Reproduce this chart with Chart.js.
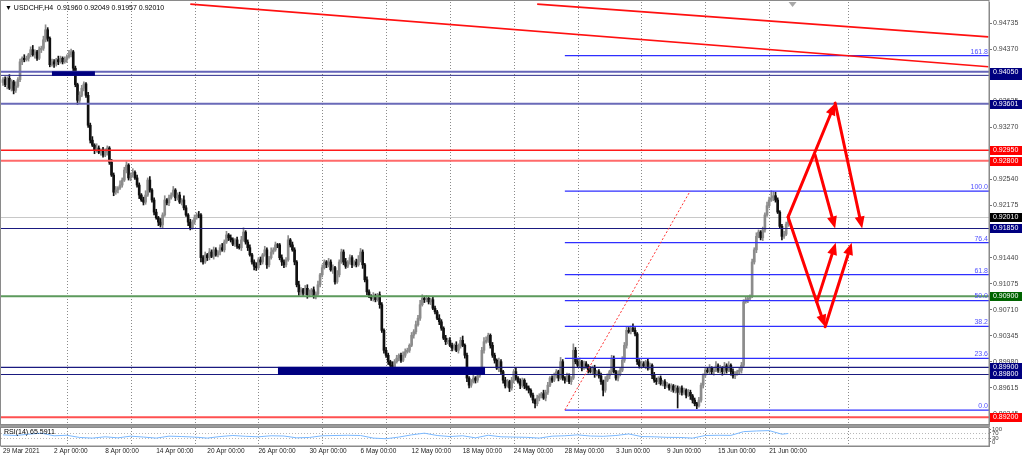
<!DOCTYPE html>
<html>
<head>
<meta charset="utf-8">
<script src="https://cdn.jsdelivr.net/npm/chart.js@4.4.1/dist/chart.umd.min.js"></script>
<style>
  html, body { margin: 0; padding: 0; background: #fff; }
  #wrap { position: relative; width: 1024px; height: 456px; overflow: hidden; }
  #main { position: absolute; left: 0; top: 0; }
  #rsi { position: absolute; left: 0; top: 425px; }
</style>
</head>
<body>
<div id="wrap">
  <canvas id="main" width="1024" height="425"></canvas>
  <canvas id="rsi" width="1024" height="31"></canvas>
</div>
<script>
// USDCHF H4, 29 Mar - 22 Jun 2021. Prices in pips (x 0.0001)
const PIP = 0.0001;
const firstOpen = 9390;
const closes = [
  9394,9387,9396,9382,9391,9379,9385,9394,9419,9424,
  9422,9424,9429,9436,9429,9433,9424,9436,9438,9450,
  9464,9452,9415,9419,9416,9422,9419,9424,9419,9422,
  9426,9429,9433,9410,9387,9365,9372,9382,9388,9372,
  9330,9309,9302,9295,9298,9292,9295,9288,9292,9298,
  9278,9260,9236,9239,9242,9246,9253,9267,9274,9256,
  9260,9264,9256,9246,9232,9225,9222,9232,9253,9239,
  9225,9208,9200,9194,9190,9204,9225,9221,9228,9232,
  9239,9228,9232,9222,9225,9214,9204,9194,9186,9194,
  9200,9204,9204,9144,9138,9148,9144,9152,9146,9155,
  9148,9152,9158,9155,9166,9176,9172,9169,9163,9169,
  9160,9158,9169,9180,9166,9158,9148,9138,9132,9130,
  9141,9138,9148,9155,9134,9144,9152,9155,9162,9162,
  9144,9138,9134,9141,9169,9162,9155,9138,9106,9096,
  9099,9094,9101,9092,9096,9099,9090,9093,9106,9120,
  9130,9138,9134,9138,9127,9130,9110,9120,9138,9152,
  9138,9132,9138,9144,9134,9138,9134,9141,9152,9134,
  9113,9096,9090,9087,9090,9085,9092,9078,9042,9014,
  9007,8998,8993,8986,8998,9003,9007,9000,9007,9012,
  9014,9021,9035,9040,9050,9059,9078,9087,9085,9087,
  9082,9085,9073,9068,9059,9054,9045,9031,9026,9028,
  9021,9017,9021,9014,9020,9028,9021,9007,8975,8965,
  8970,8975,8972,8978,8984,9014,9026,9028,9035,9021,
  9007,9000,8989,8998,8984,8972,8964,8970,8961,8972,
  8984,8975,8970,8965,8972,8964,8961,8958,8951,8944,
  8939,8947,8950,8953,8947,8955,8965,8975,8972,8978,
  8984,8975,8998,8975,8972,8978,8970,8975,9014,8998,
  8993,8998,8989,8995,8992,8986,8984,8989,8981,8984,
  8978,8970,8958,8972,8978,8984,9003,8984,8975,8981,
  8986,9000,9021,9042,9040,9045,9042,9037,8998,8992,
  8995,8992,8998,8989,8993,8979,8972,8970,8975,8967,
  8970,8964,8965,8961,8964,8958,8961,8955,8961,8955,
  8958,8951,8955,8950,8944,8939,8936,8944,8965,8979,
  8986,8984,8989,8984,8986,8992,8986,8989,8984,8992,
  8986,8993,8984,8978,8981,8984,8986,8993,9082,9085,
  9087,9090,9138,9155,9174,9180,9172,9183,9204,9217,
  9225,9228,9231,9225,9208,9188,9174,9177,9191,9201
];
// wick lengths beyond the body, pips
const wickUp = [
  3,4,2,5,3,2,6,3,4,2, 5,3,2,4,6,3,2,4,3,5, 7,3,2,4,3,2,5,3,2,4, 3,6,4,2,3,2,5,4,3,2,
  4,3,5,2,6,3,2,4,5,3, 2,4,3,5,2,6,3,4,5,2, 3,5,2,4,3,2,4,6,3,5, 2,3,4,2,5,3,6,2,4,3,
  5,2,3,4,2,6,3,2,4,3, 4,3,5,2,3,4,2,5,3,4, 3,2,4,6,3,5,2,4,3,2, 4,3,5,6,2,3,4,2,3,5,
  3,4,2,5,3,2,6,3,4,2, 2,4,3,3,6,2,4,3,2,5, 3,2,4,5,3,2,4,3,5,2, 4,3,2,5,3,4,2,6,3,4,
  3,5,2,4,3,2,4,6,5,3, 2,4,3,2,5,3,2,4,3,2, 4,3,2,5,3,4,2,3,5,4, 3,2,4,3,5,4,6,5,3,4,
  3,2,4,3,2,5,3,2,4,3, 4,3,2,5,3,4,6,2,3,2, 3,4,2,5,3,4,6,5,3,2, 4,3,2,5,3,2,4,3,2,4,
  3,5,2,4,3,2,4,3,2,3, 2,4,3,2,5,3,4,2,3,4, 3,2,6,3,2,4,3,2,9,4, 3,5,2,4,3,2,5,3,4,2,
  3,4,2,5,3,2,4,3,2,4, 3,5,4,5,4,3,6,4,2,3, 4,3,2,4,3,2,4,3,2,3, 2,3,4,2,3,2,4,3,2,3,
  3,2,4,3,2,3,2,4,3,2, 4,3,5,2,4,6,3,4,2,5, 3,5,2,4,3,2,3,4,3,4, 3,2,4,3,5,3,2,4,3,5,
  4,10,6,5,3,2,3,4,3,4
];
const wickDn = [
  4,3,6,2,4,5,3,2,3,4, 3,2,4,3,2,5,3,2,4,3, 3,4,3,2,5,3,4,2,3,2, 4,2,3,5,3,6,3,2,4,3,
  3,4,2,5,3,2,4,3,2,4, 3,2,5,3,4,2,3,2,4,3, 4,3,2,3,5,2,4,3,2,3, 3,4,2,5,3,4,2,3,4,2,
  2,4,3,2,4,3,2,5,3,2, 3,2,4,6,3,2,4,3,2,4, 2,3,4,2,3,2,4,3,2,3, 3,2,4,2,3,4,2,3,5,4,
  2,4,3,2,5,3,2,3,2,4, 3,5,4,3,2,3,2,4,3,5, 4,3,2,5,3,4,3,4,2,3, 3,2,4,3,2,5,3,2,3,2,
  4,3,2,3,4,2,3,2,3,5, 3,4,2,3,4,3,2,5,3,4, 3,4,5,6,3,2,4,3,2,3, 2,3,2,4,3,2,3,2,4,3,
  3,4,2,3,2,4,3,2,4,3, 2,4,3,2,4,3,2,4,5,4, 3,2,4,3,2,3,4,2,3,4, 3,4,2,5,3,4,3,2,5,3,
  4,3,2,5,3,4,3,4,3,4, 6,3,4,3,2,4,3,2,3,2, 3,4,2,3,4,2,3,4,2,3, 2,3,4,2,3,4,2,3,5,3,
  3,4,8,3,2,4,3,2,3,4, 3,2,3,4,2,3,2,3,4,3, 3,2,4,3,2,5,3,4,3,2, 3,4,2,3,5,3,4,22,3,4,
  3,4,2,5,4,3,4,2,3,4, 3,2,4,3,5,2,3,4,5,3, 4,2,5,3,4,2,3,4,3,2, 4,3,2,3,4,2,3,4,3,2,
  3,2,4,3,2,3,5,3,2,3
];

// RSI(14) read once per trading day
const rsiIdx = [0,6,12,18,24,30,36,42,48,54,60,66,72,78,84,90,96,102,108,114,120,126,132,138,144,
  150,156,162,168,174,180,186,192,198,204,210,216,222,228,234,240,246,252,258,264,270,276,282,
  288,294,300,306,312,318,324,330,336,342,348,354,360,366,369];
const rsiVals = [55,50,60,68,48,52,35,30,40,32,45,38,30,45,42,38,30,42,50,44,40,48,46,32,35,
  48,50,52,50,30,25,38,55,68,50,42,48,32,52,40,38,36,30,45,48,55,46,44,50,62,42,40,36,35,30,
  50,52,51,80,85,88,60,65.59];

// time axis
const labelIdx = [0,24,48,72,96,120,144,168,192,216,240,264,288,312,336,360];
const labelText = ['29 Mar 2021','2 Apr 00:00','8 Apr 00:00','14 Apr 00:00','20 Apr 00:00',
  '26 Apr 00:00','30 Apr 00:00','6 May 00:00','12 May 00:00','18 May 00:00','24 May 00:00',
  '28 May 00:00','3 Jun 00:00','9 Jun 00:00','15 Jun 00:00','21 Jun 00:00'];
const gridIdx = [30,60,90,120,150,180,210,240,270,300,330,360,397];

// price axis
const priceTicks = [0.94735,0.94370,0.94005,0.93635,0.93270,0.92905,0.92540,0.92175,0.91810,
  0.91440,0.91075,0.90710,0.90345,0.89980,0.89615,0.89245];
const rsiTicks = [100,70,30,0];

// drawn objects
const levelValues = [0.94000,0.94050,0.93601,0.92950,0.92800,0.91850,0.90900,0.89900,0.89800,0.89200];
const levelStyle = [
  ['#2a2a8a', 1, '#000080'], ['#6464b8', 2, '#000080'], ['#6a6ab8', 2, '#000080'],
  ['#ff1a1a', 1.5, '#ff0000'], ['#ff6a6a', 2, '#ff0000'], ['#1a1a80', 1.2, '#000080'],
  ['#5c9a5c', 2, '#006400'], ['#1a1a80', 1.2, '#000080'], ['#1a1a80', 1.2, '#000080'],
  ['#ff5050', 2, '#ff0000']
];
const lastPrice = 0.92010;
const zoneFrom = [23, 129.2];
const zoneTo = [43.2, 226.5];
const zoneLow = [0.94000, 0.89800];
const zoneHigh = [0.94050, 0.89900];
const fibStart = 264;
const fibLow = 0.89301;
const fibHigh = 0.92376;
const fibRatios = [0, 23.6, 38.2, 50, 61.8, 76.4, 100, 161.8];
const fibText = ['0.0','23.6','38.2','50.0','61.8','76.4','100.0','161.8'];
const fibEnd = 322.9;
const trendFrom = [[88, 0.9500], [251, 0.9500]];
const trendTo = [[463, 0.9412], [463, 0.9454]];
const arrowFrom = [[368.9,0.9201],[391.0,0.9361],[381.6,0.9288],[368.9,0.9201],[386.3,0.9047],[382.4,0.9082]];
const arrowTo = [[391.0,0.9361],[403.7,0.9185],[391.0,0.9185],[386.3,0.9047],[398.8,0.9165],[391.3,0.9165]];

const opens = closes.map((c, i) => i === 0 ? firstOpen : closes[i - 1]);
const bodies = closes.map((c, i) => ({ x: i, y: [opens[i] * PIP, c * PIP] }));
const ranges = closes.map((c, i) => ({
  x: i,
  y: [(Math.min(opens[i], c) - wickDn[i]) * PIP, (Math.max(opens[i], c) + wickUp[i]) * PIP]
}));
const colors = closes.map((c, i) => c > opens[i] ? '#8c8c8c' : '#111111');

const FONT = 'Liberation Sans';
const X_MIN = -0.94, X_MAX = 463.3;

function vgrid(chart) {
  const { ctx, chartArea: a, scales: { x } } = chart;
  ctx.save();
  ctx.strokeStyle = '#8a8a8a';
  ctx.lineWidth = 1;
  ctx.setLineDash([1, 2]);
  gridIdx.forEach(i => {
    const px = Math.round(x.getPixelForValue(i)) + 0.5;
    ctx.beginPath(); ctx.moveTo(px, a.top); ctx.lineTo(px, a.bottom); ctx.stroke();
  });
  ctx.restore();
}

function arrow(ctx, x1, y1, x2, y2) {
  const ang = Math.atan2(y2 - y1, x2 - x1);
  const L = 12, W = 5;
  const bx = x2 - L * Math.cos(ang), by = y2 - L * Math.sin(ang);
  ctx.beginPath(); ctx.moveTo(x1, y1); ctx.lineTo(bx, by); ctx.stroke();
  ctx.beginPath();
  ctx.moveTo(x2, y2);
  ctx.lineTo(bx + W * Math.sin(ang), by - W * Math.cos(ang));
  ctx.lineTo(bx - W * Math.sin(ang), by + W * Math.cos(ang));
  ctx.closePath(); ctx.fill();
}

function priceBox(ctx, left, yPx, text, bg) {
  ctx.fillStyle = bg;
  ctx.fillRect(left + 1, Math.round(yPx) - 4, 32, 9);
  ctx.fillStyle = '#ffffff';
  ctx.font = '7px ' + FONT;
  ctx.textAlign = 'left';
  ctx.textBaseline = 'middle';
  ctx.fillText(text, left + 4, Math.round(yPx) + 0.5);
}

const overlay = {
  id: 'overlay',
  beforeDatasetsDraw(chart) {
    const { ctx, chartArea: a, scales: { y } } = chart;
    vgrid(chart);
    ctx.save();
    ctx.strokeStyle = '#c8c8c8';
    ctx.lineWidth = 1;
    const py = Math.round(y.getPixelForValue(lastPrice)) + 0.5;
    ctx.beginPath(); ctx.moveTo(a.left, py); ctx.lineTo(a.right, py); ctx.stroke();
    ctx.restore();
  },
  afterDatasetsDraw(chart) {
    const { ctx, chartArea: a, scales: { x, y } } = chart;
    ctx.save();
    ctx.beginPath(); ctx.rect(a.left, a.top, a.right - a.left, a.bottom - a.top); ctx.clip();

    // horizontal levels
    levelValues.forEach((v, k) => {
      const [col, w] = levelStyle[k];
      const py = y.getPixelForValue(v);
      ctx.strokeStyle = col; ctx.lineWidth = w;
      ctx.beginPath(); ctx.moveTo(a.left, py); ctx.lineTo(a.right, py); ctx.stroke();
    });

    // support / resistance zones
    ctx.fillStyle = '#000080';
    zoneFrom.forEach((f, k) => {
      const x1 = x.getPixelForValue(f), x2 = x.getPixelForValue(zoneTo[k]);
      const y1 = y.getPixelForValue(zoneHigh[k]), y2 = y.getPixelForValue(zoneLow[k]);
      ctx.fillRect(x1, y1 - 0.5, x2 - x1, y2 - y1 + 1);
    });

    // fibonacci
    const fx = x.getPixelForValue(fibStart);
    ctx.font = '7px ' + FONT;
    ctx.textAlign = 'right';
    ctx.textBaseline = 'bottom';
    fibRatios.forEach((r, k) => {
      const py = y.getPixelForValue(fibLow + (fibHigh - fibLow) * r / 100);
      ctx.strokeStyle = '#2e2eff'; ctx.lineWidth = 1.3;
      ctx.beginPath(); ctx.moveTo(fx, py); ctx.lineTo(a.right, py); ctx.stroke();
      ctx.fillStyle = '#5050ff';
      ctx.fillText(fibText[k], a.right - 1, py - 0.5);
    });
    ctx.strokeStyle = '#ff3030'; ctx.lineWidth = 1; ctx.setLineDash([2, 2]);
    ctx.beginPath();
    ctx.moveTo(fx, y.getPixelForValue(fibLow));
    ctx.lineTo(x.getPixelForValue(fibEnd), y.getPixelForValue(fibHigh));
    ctx.stroke();
    ctx.setLineDash([]);

    // trend lines
    ctx.strokeStyle = '#ff1010'; ctx.lineWidth = 1.6;
    trendFrom.forEach((p, k) => {
      ctx.beginPath();
      ctx.moveTo(x.getPixelForValue(p[0]), y.getPixelForValue(p[1]));
      ctx.lineTo(x.getPixelForValue(trendTo[k][0]), y.getPixelForValue(trendTo[k][1]));
      ctx.stroke();
    });

    // scenario arrows
    ctx.strokeStyle = '#ff0000'; ctx.fillStyle = '#ff0000'; ctx.lineWidth = 3; ctx.lineCap = 'round';
    arrowFrom.forEach((p, k) => {
      arrow(ctx, x.getPixelForValue(p[0]), y.getPixelForValue(p[1]),
        x.getPixelForValue(arrowTo[k][0]), y.getPixelForValue(arrowTo[k][1]));
    });
    ctx.restore();
  },
  afterDraw(chart) {
    const { ctx, chartArea: a, scales: { x, y } } = chart;
    ctx.save();
    levelValues.forEach((v, k) => {
      priceBox(ctx, y.left, y.getPixelForValue(v), v.toFixed(5), levelStyle[k][2]);
    });
    priceBox(ctx, y.left, y.getPixelForValue(lastPrice), lastPrice.toFixed(5), '#000000');

    // frame
    ctx.strokeStyle = '#8a8a8a'; ctx.lineWidth = 1;
    ctx.strokeRect(0.5, 0.5, a.right - 0.5, a.bottom);

    // chart shift marker
    const mx = x.getPixelForValue(371);
    ctx.fillStyle = '#a8a8a8';
    ctx.beginPath(); ctx.moveTo(mx - 4, 2); ctx.lineTo(mx + 4, 2); ctx.lineTo(mx, 7); ctx.closePath(); ctx.fill();

    // symbol header
    ctx.fillStyle = '#000000';
    ctx.font = '7px ' + FONT;
    ctx.textAlign = 'left';
    ctx.textBaseline = 'middle';
    ctx.fillText('\u25BC USDCHF,H4  0.91960 0.92049 0.91957 0.92010', 5, 8.5);
    ctx.restore();
  }
};

new Chart(document.getElementById('main').getContext('2d'), {
  type: 'bar',
  data: {
    datasets: [
      { data: ranges, backgroundColor: colors, barThickness: 1, grouped: false, borderWidth: 0 },
      { data: bodies, backgroundColor: colors, barThickness: 2, grouped: false, borderWidth: 0 }
    ]
  },
  options: {
    responsive: false,
    animation: false,
    layout: { padding: { left: 1, top: 2, right: 0, bottom: 1 } },
    plugins: { legend: { display: false }, tooltip: { enabled: false } },
    scales: {
      x: { type: 'linear', min: X_MIN, max: X_MAX, offset: false, display: false },
      y: {
        position: 'right',
        min: 0.89105,
        max: 0.95030,
        afterBuildTicks: s => { s.ticks = priceTicks.map(v => ({ value: v })); },
        afterFit: s => { s.width = 35; s.paddingTop = 0; s.paddingBottom = 0; },
        ticks: {
          autoSkip: false,
          padding: 1,
          color: '#444444',
          font: { family: FONT, size: 7 },
          callback: v => v.toFixed(5)
        },
        grid: { drawOnChartArea: false, drawTicks: true, tickLength: 3, color: '#777777' },
        border: { display: true, color: '#8a8a8a' }
      }
    }
  },
  plugins: [overlay]
});

const rsiOverlay = {
  id: 'rsiOverlay',
  beforeDatasetsDraw(chart) {
    const { ctx, chartArea: a, scales: { y } } = chart;
    vgrid(chart);
    ctx.save();
    ctx.strokeStyle = '#b8b8b8'; ctx.lineWidth = 1; ctx.setLineDash([1, 2]);
    [70, 30].forEach(v => {
      const py = Math.round(y.getPixelForValue(v)) + 0.5;
      ctx.beginPath(); ctx.moveTo(a.left, py); ctx.lineTo(a.right, py); ctx.stroke();
    });
    ctx.restore();
  },
  afterDraw(chart) {
    const { ctx, chartArea: a } = chart;
    ctx.save();
    ctx.fillStyle = '#9a9a9a';
    ctx.fillRect(0, 0, a.right + 1, 2);
    ctx.strokeStyle = '#8a8a8a'; ctx.lineWidth = 1;
    ctx.strokeRect(0.5, 2.5, a.right - 0.5, a.bottom - 2.5);
    ctx.fillStyle = '#000000';
    ctx.font = '7px ' + FONT;
    ctx.textAlign = 'left';
    ctx.textBaseline = 'middle';
    ctx.fillText('RSI(14) 65.5911', 4, 7.5);
    ctx.restore();
  }
};

new Chart(document.getElementById('rsi').getContext('2d'), {
  type: 'line',
  data: {
    datasets: [{
      data: rsiIdx.map((i, k) => ({ x: i, y: rsiVals[k] })),
      borderColor: '#7ab8ff',
      borderWidth: 1,
      pointRadius: 0,
      tension: 0
    }]
  },
  options: {
    responsive: false,
    animation: false,
    layout: { padding: { left: 1, top: 3, right: 0, bottom: 0 } },
    plugins: { legend: { display: false }, tooltip: { enabled: false } },
    scales: {
      x: {
        type: 'linear', min: X_MIN, max: X_MAX, offset: false,
        afterBuildTicks: s => { s.ticks = labelIdx.map(v => ({ value: v })); },
        afterFit: s => { s.height = 10; s.paddingLeft = 0; s.paddingRight = 0; },
        ticks: {
          autoSkip: false, maxRotation: 0, align: 'start', padding: 1,
          color: '#222222', font: { family: FONT, size: 6.5 },
          callback: (v) => labelText[labelIdx.indexOf(v)]
        },
        grid: { display: false, drawTicks: false },
        border: { display: true, color: '#8a8a8a' }
      },
      y: {
        position: 'right', min: -31, max: 108,
        afterBuildTicks: s => { s.ticks = rsiTicks.map(v => ({ value: v })); },
        afterFit: s => { s.width = 35; s.paddingTop = 0; s.paddingBottom = 0; },
        ticks: { autoSkip: false, padding: 1, color: '#444444', font: { family: FONT, size: 6 } },
        grid: { drawOnChartArea: false, drawTicks: true, tickLength: 2, color: '#777777' },
        border: { display: true, color: '#8a8a8a' }
      }
    }
  },
  plugins: [rsiOverlay]
});
</script>
</body>
</html>
